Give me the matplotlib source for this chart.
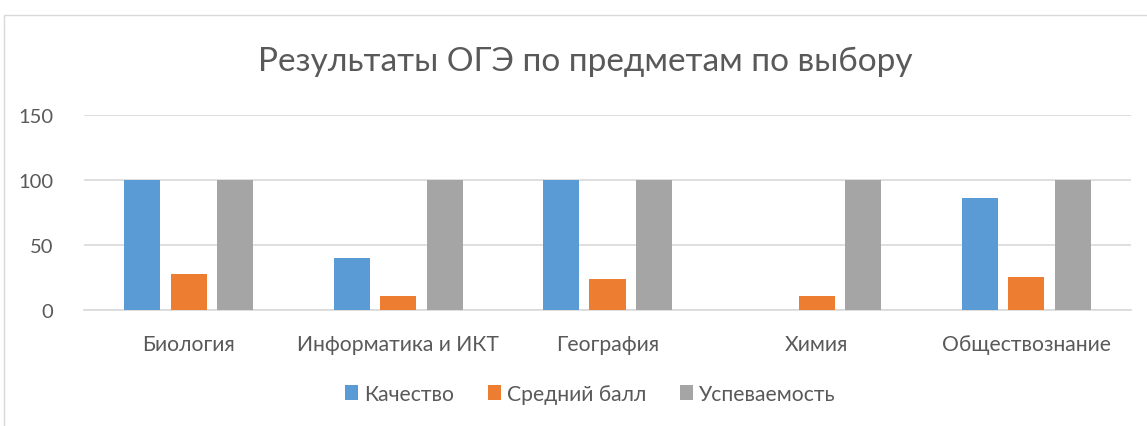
import matplotlib
matplotlib.use("Agg")
import matplotlib.pyplot as plt
import numpy as np
from matplotlib.patches import Rectangle

categories = ["Биология", "Информатика и ИКТ", "География", "Химия", "Обществознание"]
series_names = ["Качество", "Средний балл", "Успеваемость"]
kachestvo = [100, 40, 100, 0, 86]
sredniy_ball = [28, 11, 24, 11, 25]
uspevaemost = [100, 100, 100, 100, 100]
y_ticks = [0, 50, 100, 150]
colors = ["#5B9BD5", "#ED7D31", "#A5A5A5"]

plt.rcParams['font.family'] = ['Lato', 'DejaVu Sans']
txt = "#595959"

fig = plt.figure(figsize=(11.47, 4.27), dpi=100)
fig.patches.append(Rectangle((4/1147, -0.1), 1.2, 1 - 16/427 + 0.1, transform=fig.transFigure,
                             fill=False, edgecolor="#d9d9d9", linewidth=1.0))
ax = fig.add_axes([84/1147, 1 - 311/427, (1131 - 84)/1147, (311 - 115.7)/427])

x = np.arange(len(categories))
w = 0.172
step = 0.222
for i, (vals, name) in enumerate(zip([kachestvo, sredniy_ball, uspevaemost], series_names)):
    ax.bar(x + (i - 1) * step, vals, width=w, color=colors[i], label=name, zorder=3)

ax.set_xlim(-0.5, len(categories) - 0.5)
ax.set_ylim(0, 150)
ax.set_yticks(y_ticks)
ax.set_yticklabels([str(t) for t in y_ticks], fontsize=14.5, color=txt)
ax.set_xticks(x)
ax.set_xticklabels(categories, fontsize=15.2, color=txt)
ax.tick_params(axis='both', length=0)
ax.tick_params(axis='y', pad=22)
ax.tick_params(axis='x', pad=17)
ax.grid(axis='y', color="#d9d9d9", linewidth=1.2, zorder=0)
for s in ["top", "right", "left"]:
    ax.spines[s].set_visible(False)
ax.spines["bottom"].set_color("#d9d9d9")
ax.spines["bottom"].set_linewidth(1.2)

fig.text(585/1147, 1 - 62/427, "Результаты ОГЭ по предметам по выбору", fontsize=24,
         color=txt, ha="center", va="center")

leg = fig.legend(loc="center", bbox_to_anchor=(590/1147, 1 - 395/427), ncol=3, frameon=False,
                 fontsize=15.2, handlelength=0.65, handleheight=0.75, handletextpad=0.25,
                 columnspacing=1.6, labelcolor=txt)

fig.savefig("out.png", dpi=100)
